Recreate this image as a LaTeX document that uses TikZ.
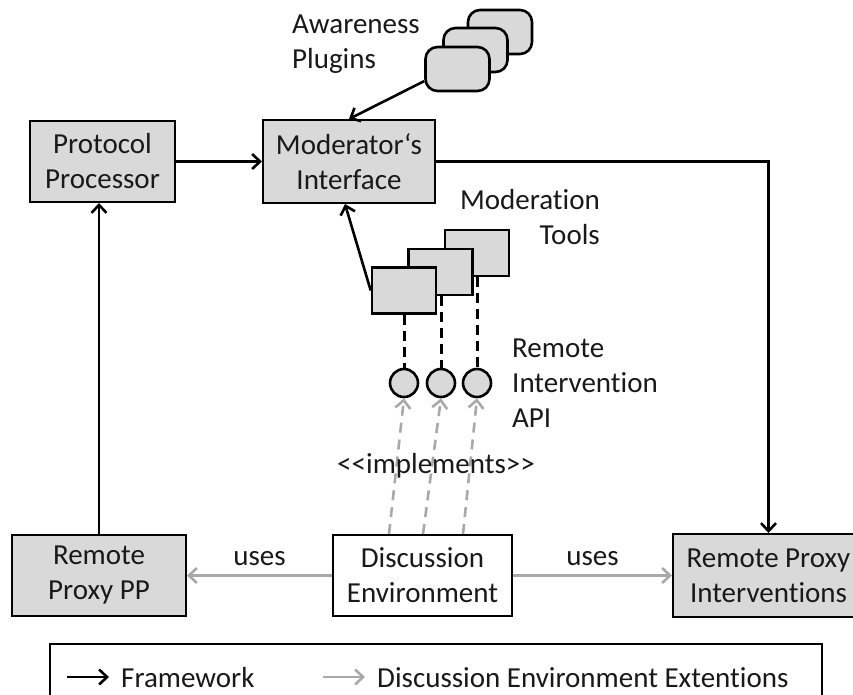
\documentclass[tikz,border=0pt]{standalone}
\usepackage{fontspec}
\setmainfont{Carlito}[Ligatures={NoCommon}]
\usetikzlibrary{arrows.meta,calc}
\definecolor{boxfill}{HTML}{D9D9D9}
\definecolor{extgray}{HTML}{A9A9A9}
\begin{document}
\begin{tikzpicture}[x=1pt,y=-1pt,
  every node/.style={font=\fontsize{29}{35}\selectfont, text=black!90},
  comp/.style={draw, line width=2pt, fill=boxfill, inner sep=0pt, align=center},
  envbox/.style={comp, fill=white},
  plugin/.style={draw, line width=2.6pt, fill=boxfill, rounded corners=12pt, minimum width=64pt, minimum height=44pt, inner sep=0pt},
  toolbox/.style={draw, line width=2.6pt, fill=boxfill, minimum width=64pt, minimum height=46pt, inner sep=0pt},
  api/.style={draw, line width=2.6pt, fill=boxfill, circle, minimum size=28pt, inner sep=0pt},
  fw/.style={line width=2.6pt, -{Straight Barb[length=8pt,width=15pt,line width=2.6pt]}},
  ext/.style={line width=3pt, draw=extgray, -{Straight Barb[length=8pt,width=15pt,line width=2.6pt]}},
  extdash/.style={ext, line width=2.6pt, dash pattern=on 10pt off 7pt},
  link/.style={line width=3pt, dash pattern=on 10pt off 6pt},
  label/.style={inner sep=0pt, align=left}
]
\useasboundingbox (0,0) rectangle (853,694);
\clip (0,0) rectangle (853,694);

% main components
\node[comp, minimum width=145pt, minimum height=81pt] (pp) at (102.5,161.5) {Protocol\\Processor};
\node[comp, minimum width=172pt, minimum height=83pt] (mi) at (349,161.5) {Moderator‘s\\Interface};
\node[comp, minimum width=174pt, minimum height=81pt] (rpp) at (99,575.5) {Remote\\Proxy PP};
\node[envbox, minimum width=179pt, minimum height=81pt] (de) at (422.5,575.5) {Discussion\\Environment};
\node[comp, minimum width=191pt, minimum height=83pt] (rpi) at (768.5,575.5) {Remote Proxy\\Interventions};

% awareness plugins (stacked)
\node[plugin] (pl3) at (500,32) {};
\node[plugin] (pl2) at (475.5,50) {};
\node[plugin] (pl1) at (457.5,69) {};
\node[label, anchor=west] (plt) at (292,44.5) {Awareness\\Plugins};

% moderation tools (stacked)
\node[toolbox] (t3) at (477,253) {};
\node[toolbox] (t2) at (440.5,272) {};
\node[toolbox] (t1) at (404,290.5) {};
\node[label, align=right, anchor=east] (tt) at (600,217.5) {Moderation\\Tools};

% remote intervention API
\node[api] (a1) at (404,383) {};
\node[api] (a2) at (441,383) {};
\node[api] (a3) at (477,383) {};
\node[label, anchor=west] (apit) at (512,383) {Remote\\Intervention\\API};

\draw[link] (t1.south) -- (a1.north);
\draw[link] (t2.south -| a2.north) -- (a2.north);
\draw[link] (t3.south -| a3.north) -- (a3.north);

% framework connectors
\draw[fw] (pp.east) -- (mi.west);
\draw[fw] (pl1.200) -- (mi.north);
\draw[fw] (t1.west) -- ($(mi.south)+(-4,0)$);
\draw[fw] (mi.east) -| (rpi.north);
\draw[fw] (rpp.north) -- (rpp.north |- pp.south);

% extension connectors
\coordinate (d1) at ($(de.north)+(-33.5,0)$);
\coordinate (d2) at ($(de.north)+(0.5,0)$);
\coordinate (d3) at ($(de.north)+(40.5,0)$);
\draw[extdash] (d1) -- (a1.south);
\draw[extdash] (d2) -- (a2.south);
\draw[extdash] (d3) -- (a3.south);
\node[inner sep=0pt] (impl) at (436,466) {<\kern0pt<implements>\kern0pt>};

\draw[ext] (de.west) -- node[above=8pt, inner sep=0pt] (u1) {uses} (rpp.east);
\draw[ext] (de.east) -- node[above=8pt, inner sep=0pt] (u2) {uses} (rpi.west);

% legend
\node[draw, line width=2pt, minimum width=772pt, minimum height=80pt, anchor=north west, inner sep=0pt] (leg) at (49,643) {};
\coordinate (k1a) at (67,677);
\coordinate (k1b) at (109,677);
\coordinate (k2a) at (323,677);
\coordinate (k2b) at (365,677);
\draw[fw] (k1a) -- (k1b);
\draw[ext, line width=2.6pt] (k2a) -- (k2b);
\node[label, anchor=west] (lf) at (121,678) {Framework};
\node[label, anchor=west] (le) at (377,678) {Discussion Environment Extentions};
\end{tikzpicture}
\end{document}
